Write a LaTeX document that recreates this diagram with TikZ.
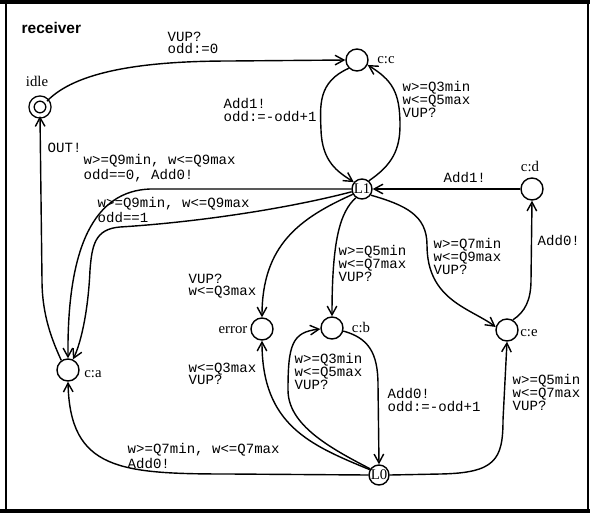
\documentclass[tikz,border=0pt]{standalone}
\usepackage{fontspec}
\setmainfont{Liberation Serif}
\setsansfont{Liberation Sans}
\setmonofont{Liberation Mono}
\usetikzlibrary{arrows.meta}

\begin{document}
\begin{tikzpicture}[x=0.025cm,y=-0.025cm,line width=1pt,>={Straight Barb[length=2.2mm,width=2.4mm]},
  st/.style={circle,draw,line width=1pt,minimum size=0.55cm,inner sep=0pt,font=\fontsize{10.5}{12}\selectfont},
  nm/.style={font=\fontsize{10.5}{12}\selectfont,inner sep=0pt},
  lbl/.style={font=\ttfamily\fontsize{10}{9}\selectfont,align=left,anchor=north west,inner sep=0pt}]
\useasboundingbox (0,0) rectangle (590,514);
\draw[line width=1.6pt] (6,3) rectangle (588,510);
\draw[line width=3pt] (0,2) -- (590,2); \draw[line width=2.5pt] (0,511) -- (590,511);
\node[font=\sffamily\bfseries\fontsize{11}{13}\selectfont,anchor=base west,inner sep=0pt] (title) at (21,33) {receiver};
\node[st,double,double distance=2.6pt,minimum size=12pt] (idle) at (40,107) {};
\node[st] (cc) at (357,60) {};
\node[st,minimum size=0.5cm] (L1) at (362,189) {L1};
\node[st] (cd) at (532,189) {};
\node[st] (ce) at (507,330) {};
\node[st] (cb) at (332,328) {};
\node[st] (err) at (262,329) {};
\node[st] (ca) at (68,370) {};
\node[st,minimum size=0.5cm] (L0) at (379,475) {L0};
\node[nm] (tidle) at (37,81) {idle};
\node[nm] (tcc) at (386,60) {c:c};
\node[nm] (tcd) at (530,166) {c:d};
\node[nm] (tce) at (529,333) {c:e};
\node[nm] (tcb) at (361,327) {c:b};
\node[nm] (terr) at (233,330) {error};
\node[nm] (tca) at (93,374) {c:a};
\draw[->] (idle.40) .. controls (75,72) and (140,61) .. (230,61) -- (cc.west);
\draw[->] (ca.125) .. controls (52,340) and (42,315) .. (42,280) -- (idle.south);
\draw[->] (cc.225) .. controls (318,82) and (320,105) .. (321,130) .. controls (322,162) and (338,172) .. (L1.140);
\draw[->] (L1.50) .. controls (392,165) and (400,150) .. (400,125) .. controls (400,92) and (392,80) .. (cc.-25);
\draw[->] (cd) -- (L1);
\draw[->] (ce.60) .. controls (525,312) and (531,300) .. (531,280) -- (cd.south);
\draw[->] (L1.-35) .. controls (405,205) and (427,215) .. (427,245) .. controls (427,300) and (470,308) .. (ce.165);
\draw[->] (L1.235) .. controls (340,212) and (332,240) .. (cb.north);
\draw[->] (L1.210) .. controls (300,218) and (262,245) .. (err.north);
\draw[->] (L1.west) -- (150,189) .. controls (95,191) and (67,245) .. (ca.north);
\draw[->] (L1.195) .. controls (290,208) and (200,222) .. (120,227) .. controls (95,229) and (92,245) .. (90,270) .. controls (88,315) and (80,345) .. (ca.65);
\draw[->] (cb.-15) .. controls (368,338) and (378,352) .. (378,385) -- (L0.north);
\draw[->] (L0.145) .. controls (330,448) and (288,425) .. (288,390) .. controls (288,345) and (292,332) .. (cb.185);
\draw[->] (L0.150) .. controls (310,445) and (262,425) .. (err.south);
\draw[->] (L0.west) -- (230,474) .. controls (120,474) and (70,470) .. (ca.south);
\draw[->] (L0.east) -- (440,474) .. controls (495,473) and (503,460) .. (503,420) -- (ce.south);
\node[lbl] (l1) at (167,31) {VUP?\\odd:=0};
\node[lbl] (l2) at (47,142) {OUT!};
\node[lbl] (l3) at (223,98) {Add1!\\odd:=-odd+1};
\node[lbl] (l4) at (402,81) {w>=Q3min\\w<=Q5max\\VUP?};
\node[lbl] (l5) at (443,172) {Add1!};
\node[lbl] (l6) at (537,235) {Add0!};
\node[lbl] (l7) at (433,238) {w>=Q7min\\w<=Q9max\\VUP?};
\node[lbl] (l8) at (338,245) {w>=Q5min\\w<=Q7max\\VUP?};
\node[lbl] (l9) at (188,273) {VUP?\\w<=Q3max};
\node[lbl] (l10) at (83,154) {w>=Q9min, w<=Q9max\\odd==0, Add0!};
\node[lbl] (l11) at (97,197) {w>=Q9min, w<=Q9max\\odd==1};
\node[lbl] (l12) at (188,362) {w<=Q3max\\VUP?};
\node[lbl] (l13) at (294,353) {w>=Q3min\\w<=Q5max\\VUP?};
\node[lbl] (l14) at (387,388) {Add0!\\odd:=-odd+1};
\node[lbl] (l15) at (512,374) {w>=Q5min\\w<=Q7max\\VUP?};
\node[lbl] (l16) at (127,443) {w>=Q7min, w<=Q7max\\Add0!};
\end{tikzpicture}
\end{document}
